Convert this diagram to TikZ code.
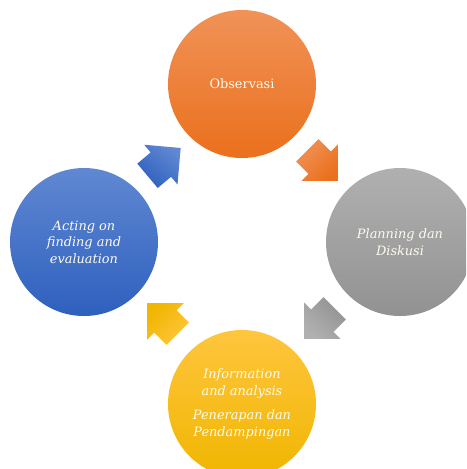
\documentclass[tikz,border=0pt]{standalone}
\usepackage{fontspec}
\setmainfont{DejaVu Serif}
\usetikzlibrary{shapes.arrows,calc}
\definecolor{obstop}{RGB}{241,146,88}
\definecolor{obsbot}{RGB}{234,112,28}
\definecolor{plantop}{RGB}{176,176,176}
\definecolor{planbot}{RGB}{146,146,146}
\definecolor{infotop}{RGB}{255,197,62}
\definecolor{infobot}{RGB}{240,182,0}
\definecolor{acttop}{RGB}{96,136,210}
\definecolor{actbot}{RGB}{46,96,190}
\definecolor{txtcol}{RGB}{255,251,240}

\begin{document}
\begin{tikzpicture}[
    x=0.03cm, y=-0.03cm,
    stage/.style={circle, minimum size=4.44cm, inner sep=0pt, align=center, text=txtcol, font={\fontsize{11}{14.2}\selectfont\itshape}},
    turn/.style={single arrow, single arrow tip angle=90, single arrow head extend=0.3cm, inner xsep=0pt, inner ysep=0.47cm, minimum height=1.3cm},
]
\useasboundingbox (0,0) rectangle (466,469);
\clip (0,0) rectangle (466,469);

\node[stage, top color=obstop, bottom color=obsbot, font={\fontsize{11}{14.2}\selectfont}] (obs) at (242,84) {Observasi};
\node[stage, top color=plantop, bottom color=planbot] (plan) at (400,242) {Planning dan\\Diskusi};
\node[stage, top color=infotop, bottom color=infobot] (info) at (242,404) {Information\\and analysis\\[7pt]Penerapan dan\\Pendampingan};
\node[stage, top color=acttop, bottom color=actbot] (act) at (84,242) {Acting on\\finding and\\evaluation};

\node[turn, rotate=40, top color=acttop, bottom color=actbot, shading angle=-40] (toobs) at ($(act)!0.5!(obs)+(-5,4)$) {};
\node[turn, rotate=-45, top color=obstop, bottom color=obsbot, shading angle=45] (toplan) at ($(obs)!0.5!(plan)+(-4,-3)$) {};
\node[turn, rotate=-135, top color=plantop, bottom color=planbot, shading angle=135] (toinfo) at ($(plan)!0.5!(info)+(4,-5)$) {};
\node[turn, rotate=135, top color=infotop, bottom color=infobot, shading angle=-135] (toact) at ($(info)!0.5!(act)+(5,1)$) {};

\end{tikzpicture}
\end{document}
